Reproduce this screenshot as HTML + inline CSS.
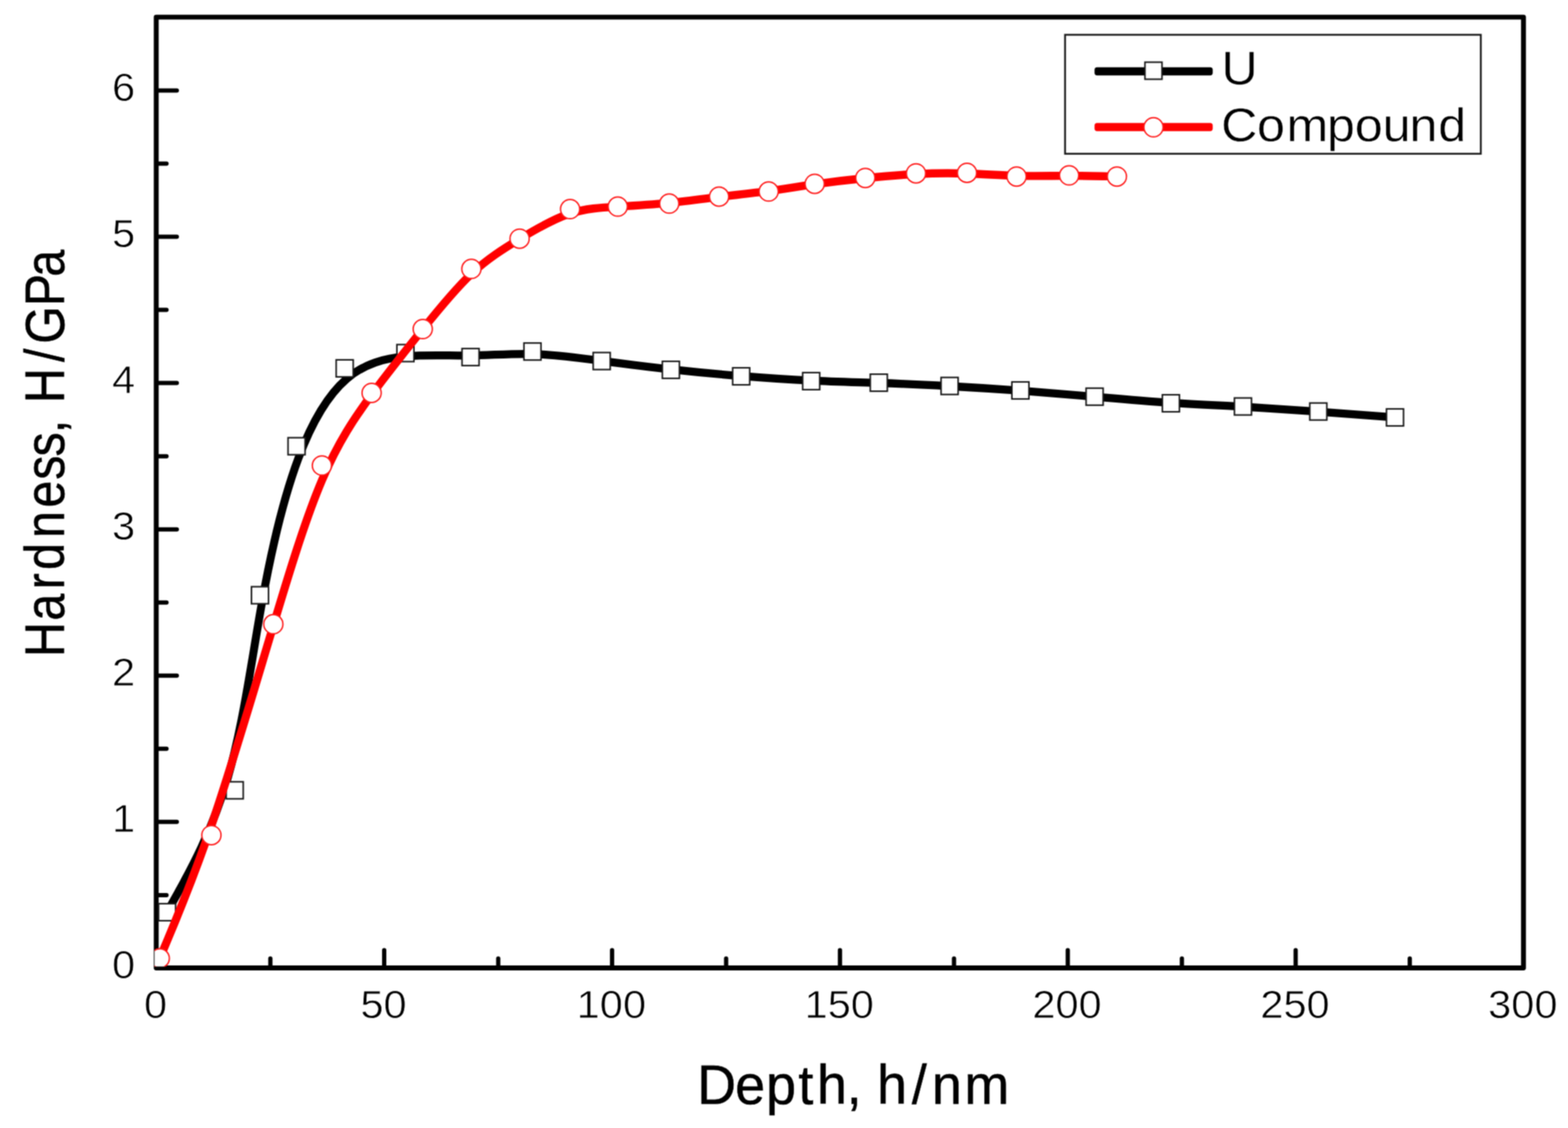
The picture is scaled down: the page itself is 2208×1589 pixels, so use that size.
<!DOCTYPE html>
<html lang="en"><head><meta charset="utf-8"><title>Hardness vs Depth</title>
<style>html,body{margin:0;padding:0;background:#fff}svg{display:block}text{font-family:"Liberation Sans",Arial,sans-serif;fill:#000}.tk text{stroke:#fff;stroke-width:.8px}.ti{stroke:#000;stroke-width:.7px}.lg{stroke:#fff;stroke-width:.5px}</style></head><body>
<svg width="2208" height="1589" viewBox="0 0 2208 1589">
<defs><filter id="soft" x="0" y="0" width="2208" height="1589" filterUnits="userSpaceOnUse" color-interpolation-filters="sRGB"><feConvolveMatrix order="3" kernelMatrix="1 2 1 2 4 2 1 2 1" edgeMode="duplicate"/></filter></defs>
<g filter="url(#soft)">
<rect width="2208" height="1589" fill="#fff"/>
<defs><clipPath id="pc"><rect x="217.6" y="20.5" width="1931.7" height="1341.1"/></clipPath></defs>
<rect x="220.0" y="24.1" width="1925.3" height="1339.4" fill="none" stroke="#000" stroke-width="6.9" stroke-linejoin="round"/>
<path d="M220.0 1157.8H249.0M220.0 951.8H249.0M220.0 745.7H249.0M220.0 539.6H249.0M220.0 333.6H249.0M220.0 127.5H249.0M220.0 1260.9H234.5M220.0 1054.8H234.5M220.0 848.7H234.5M220.0 642.7H234.5M220.0 436.6H234.5M220.0 230.5H234.5M541.0 1363.6V1338.6M861.9 1363.6V1338.6M1182.8 1363.6V1338.6M1503.6 1363.6V1338.6M1824.5 1363.6V1338.6M380.7 1363.6V1350.3M701.6 1363.6V1350.3M1022.5 1363.6V1350.3M1343.4 1363.6V1350.3M1664.3 1363.6V1350.3M1985.2 1363.6V1350.3" fill="none" stroke="#000" stroke-width="6" stroke-linecap="round"/>
<g class="tk" font-size="56.3">
<text transform="translate(190.2 1378.1) scale(1.040 1)" text-anchor="end">0</text>
<text transform="translate(190.2 1172.0) scale(1.040 1)" text-anchor="end">1</text>
<text transform="translate(190.2 966.0) scale(1.040 1)" text-anchor="end">2</text>
<text transform="translate(190.2 759.9) scale(1.040 1)" text-anchor="end">3</text>
<text transform="translate(190.2 553.8) scale(1.040 1)" text-anchor="end">4</text>
<text transform="translate(190.2 347.8) scale(1.040 1)" text-anchor="end">5</text>
<text transform="translate(190.2 141.7) scale(1.040 1)" text-anchor="end">6</text>
<text transform="translate(219.1 1434.2) scale(1.040 1)" text-anchor="middle">0</text>
<text transform="translate(540.0 1434.2) scale(1.040 1)" text-anchor="middle">50</text>
<text transform="translate(860.9 1434.2) scale(1.040 1)" text-anchor="middle">100</text>
<text transform="translate(1181.8 1434.2) scale(1.040 1)" text-anchor="middle">150</text>
<text transform="translate(1502.6 1434.2) scale(1.040 1)" text-anchor="middle">200</text>
<text transform="translate(1823.5 1434.2) scale(1.040 1)" text-anchor="middle">250</text>
<text transform="translate(2144.4 1434.2) scale(1.040 1)" text-anchor="middle">300</text>
</g>
<text class="ti" transform="translate(0 1555.3) scale(0.970 1)" font-size="78.2" x="1012.1 1067.3 1112.0 1159.1 1186.2 1229.1 1250.8 1273.2 1323.7 1352.8 1400.0">Depth, h/nm</text>
<text class="ti" transform="translate(89.7 0) rotate(-90) scale(0.870 1)" font-size="78.2" x="-1063.8 -1005.0 -954.3 -922.6 -871.1 -821.9 -776.7 -739.1 -701.4 -679.7 -652.6 -586.2 -556.6 -495.7 -448.1">Hardness, H/GPa</text>
<g clip-path="url(#pc)">
<path d="M235.3 1285.0C235.3 1285.0 235.3 1285.0 251.2 1256.4C267.0 1227.8 298.8 1170.5 320.6 1096.1C342.4 1021.7 354.2 930.1 368.8 849.3C383.3 768.5 400.4 698.6 420.3 645.3C440.2 592.0 462.8 555.5 488.3 533.6C513.9 511.7 542.4 504.6 571.9 501.9C601.5 499.3 632.0 501.1 661.9 500.8C691.7 500.4 720.7 497.8 751.5 498.7C782.3 499.7 814.8 504.1 847.3 508.4C879.8 512.7 912.2 516.9 945.0 520.4C977.7 524.0 1010.7 527.1 1043.6 529.7C1076.6 532.4 1109.4 534.6 1141.7 536.1C1174.0 537.6 1205.8 538.4 1238.2 539.5C1270.7 540.6 1304.0 542.2 1337.2 544.0C1370.4 545.8 1403.7 547.9 1437.7 550.4C1471.7 552.9 1506.6 555.9 1541.9 558.9C1577.2 561.9 1613.0 565.0 1647.8 567.3C1682.6 569.6 1716.5 571.1 1751.1 573.0C1785.7 575.0 1821.0 577.3 1856.7 579.9C1892.4 582.5 1928.4 585.2 1946.4 586.6C1964.4 588.0 1964.4 588.0 1964.4 588.0" fill="none" stroke="#000" stroke-width="11.3" stroke-linejoin="round"/>
<g fill="#fff" stroke="#1a1a1a" stroke-width="2.2">
<rect x="223.3" y="1273.0" width="24" height="24"/>
<rect x="318.5" y="1101.3" width="24" height="24"/>
<rect x="354.1" y="826.5" width="24" height="24"/>
<rect x="405.6" y="616.6" width="24" height="24"/>
<rect x="473.4" y="506.9" width="24" height="24"/>
<rect x="558.9" y="485.4" width="24" height="24"/>
<rect x="650.6" y="491.0" width="24" height="24"/>
<rect x="737.8" y="483.2" width="24" height="24"/>
<rect x="835.3" y="496.6" width="24" height="24"/>
<rect x="932.7" y="509.0" width="24" height="24"/>
<rect x="1031.7" y="518.1" width="24" height="24"/>
<rect x="1130.3" y="524.9" width="24" height="24"/>
<rect x="1225.5" y="527.1" width="24" height="24"/>
<rect x="1325.2" y="531.7" width="24" height="24"/>
<rect x="1424.9" y="538.0" width="24" height="24"/>
<rect x="1529.4" y="546.8" width="24" height="24"/>
<rect x="1636.8" y="556.1" width="24" height="24"/>
<rect x="1738.3" y="560.6" width="24" height="24"/>
<rect x="1844.4" y="567.7" width="24" height="24"/>
<rect x="1952.4" y="576.0" width="24" height="24"/>
</g>
<path d="M225.0 1350.0C225.0 1350.0 225.0 1350.0 237.1 1321.1C249.2 1292.1 273.5 1234.3 300.1 1155.8C326.8 1077.4 355.8 978.3 381.8 891.6C407.7 804.8 430.5 730.3 453.6 676.0C476.6 621.7 500.0 587.6 523.6 555.6C547.3 523.5 571.3 493.6 594.7 464.5C618.1 435.3 641.0 407.1 663.7 385.8C686.4 364.6 709.1 350.4 732.2 336.4C755.4 322.3 779.1 308.5 802.1 301.0C825.2 293.4 847.5 292.3 870.8 291.0C894.1 289.7 918.2 288.2 942.0 285.9C965.8 283.5 989.2 280.3 1012.5 277.4C1035.9 274.6 1059.1 272.2 1081.6 269.2C1104.0 266.2 1125.6 262.5 1148.3 259.3C1171.0 256.2 1194.7 253.4 1218.5 251.0C1242.3 248.5 1266.1 246.4 1290.0 245.2C1313.8 244.0 1337.8 243.7 1361.4 244.5C1385.0 245.2 1408.2 247.0 1432.2 247.6C1456.2 248.2 1480.8 247.6 1504.4 247.6C1527.9 247.6 1550.4 248.2 1561.6 248.4C1572.8 248.7 1572.8 248.7 1572.8 248.7" fill="none" stroke="#f00" stroke-width="11.4" stroke-linejoin="round"/>
<g fill="#fff" stroke="#ff1a1a" stroke-width="2">
<circle cx="225.0" cy="1350.0" r="13.5"/>
<circle cx="297.7" cy="1176.4" r="13.5"/>
<circle cx="384.9" cy="879.3" r="13.5"/>
<circle cx="453.3" cy="655.8" r="13.5"/>
<circle cx="523.3" cy="553.5" r="13.5"/>
<circle cx="595.3" cy="463.6" r="13.5"/>
<circle cx="663.8" cy="378.8" r="13.5"/>
<circle cx="731.7" cy="336.2" r="13.5"/>
<circle cx="802.8" cy="294.6" r="13.5"/>
<circle cx="869.9" cy="291.1" r="13.5"/>
<circle cx="942.4" cy="286.8" r="13.5"/>
<circle cx="1012.6" cy="277.0" r="13.5"/>
<circle cx="1082.4" cy="269.8" r="13.5"/>
<circle cx="1147.2" cy="258.9" r="13.5"/>
<circle cx="1218.5" cy="250.7" r="13.5"/>
<circle cx="1289.9" cy="244.2" r="13.5"/>
<circle cx="1361.7" cy="243.5" r="13.5"/>
<circle cx="1431.5" cy="248.7" r="13.5"/>
<circle cx="1505.5" cy="247.1" r="13.5"/>
<circle cx="1572.8" cy="248.7" r="13.5"/>
</g>
</g>
<rect x="1499.8" y="49" width="585.4" height="167.6" fill="#fff" stroke="#1a1a1a" stroke-width="2.6"/>
<rect x="1541.3" y="94.8" width="166.4" height="11.4" rx="3.6" fill="#000"/>
<rect x="1612.3" y="87.6" width="24" height="24" fill="#fff" stroke="#1a1a1a" stroke-width="2.2"/>
<rect x="1541.3" y="173.3" width="166.4" height="11.4" rx="3.6" fill="#f00"/>
<circle cx="1624.3" cy="179.3" r="13.5" fill="#fff" stroke="#ff1a1a" stroke-width="2"/>
<text class="lg" transform="translate(0 118.6) scale(1.065 1)" font-size="66.5" x="1615.0">U</text>
<text class="lg" transform="translate(0 199.2) scale(1.065 1)" font-size="66.5" x="1614.6 1661.9 1700.9 1754.4 1791.2 1828.1 1863.5 1901.6">Compound</text>
</g>
</svg></body></html>
